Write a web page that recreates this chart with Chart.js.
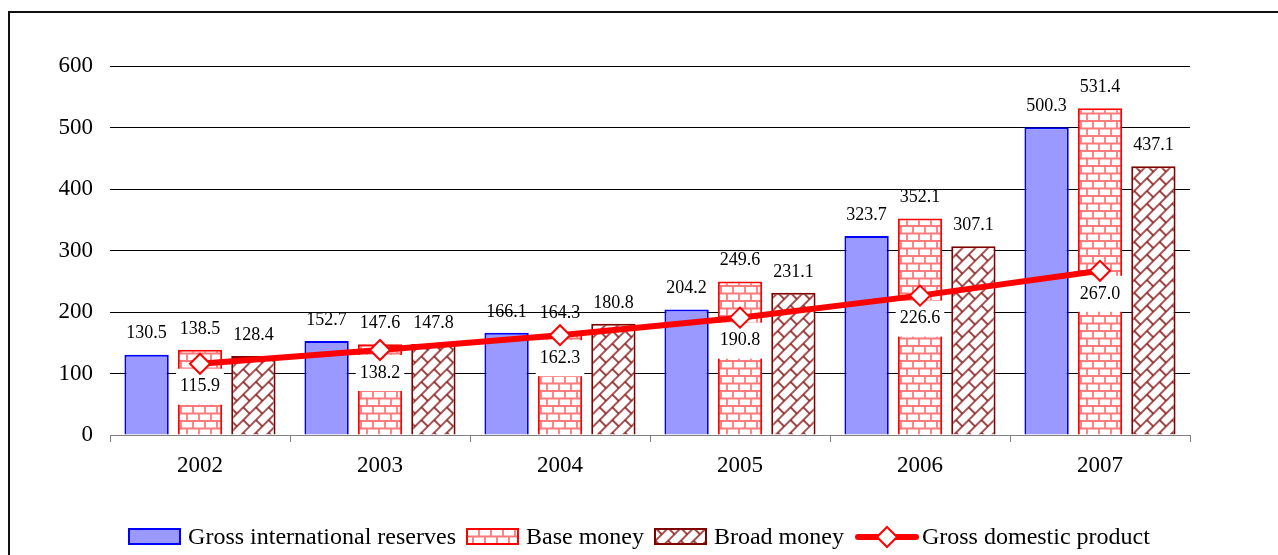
<!DOCTYPE html>
<html>
<head>
<meta charset="utf-8">
<script src="https://cdn.jsdelivr.net/npm/chart.js@4/dist/chart.umd.min.js"></script>
<style>
  body { margin: 0; background: #fff; }
  #wrap { position: relative; width: 1278px; height: 555px; overflow: hidden; }
  #frame { position: absolute; left: 8px; top: 11px; width: 1300px; height: 600px;
           border-left: 2px solid #111; border-top: 2px solid #111; }
  #chart { position: absolute; left: 0; top: 0; }
  #legend { position: absolute; left: 0; top: 523px; width: 1278px; display: flex;
            justify-content: center; align-items: center;
            font-family: "Liberation Serif", "Times New Roman", serif; font-size: 24px; color: #000; }
  #legend .item { display: flex; align-items: center; margin: 0 5px; }
  #legend canvas { margin-right: 7px; }
</style>
</head>
<body>
<div id="wrap">
  <div id="frame"></div>
  <canvas id="chart" width="1278" height="555"></canvas>
  <div id="legend"></div>
</div>
<script>
const years = ['2002', '2003', '2004', '2005', '2006', '2007'];
const reserves = [130.5, 152.7, 166.1, 204.2, 323.7, 500.3];
const baseMoney = [138.5, 147.6, 164.3, 249.6, 352.1, 531.4];
const broadMoney = [128.4, 147.8, 180.8, 231.1, 307.1, 437.1];
const gdp = [115.9, 138.2, 162.3, 190.8, 226.6, 267.0];
const yTicks = [0, 100, 200, 300, 400, 500, 600];

const serif = '"Liberation Serif", "Times New Roman", serif';

// brick tile, used straight for base money and rotated for broad money
function brickPattern(color, w, h, lw, angle) {
  const c = document.createElement('canvas');
  c.width = w; c.height = h;
  const g = c.getContext('2d');
  g.fillStyle = '#fff';
  g.fillRect(0, 0, w, h);
  g.strokeStyle = color;
  g.lineWidth = lw;
  const r = h / 2;
  g.beginPath();
  g.moveTo(0, 1); g.lineTo(w, 1);
  g.moveTo(0, 1 + r); g.lineTo(w, 1 + r);
  g.moveTo(1, 1); g.lineTo(1, 1 + r);
  g.moveTo(1 + w / 2, 1 + r); g.lineTo(1 + w / 2, h + 1);
  g.moveTo(1 + w / 2, 0); g.lineTo(1 + w / 2, 1);
  g.stroke();
  const p = g.createPattern(c, 'repeat');
  if (angle) p.setTransform(new DOMMatrix().rotate(angle));
  return p;
}

const ctx = document.getElementById('chart').getContext('2d');
const basePattern = brickPattern('#ff7a7a', 12, 15, 1.8, 0);
const broadPattern = brickPattern('#8b1a1a', 18, 18, 1.6, -45);

const labelPlugin = {
  id: 'valueLabels',
  beforeDatasetDraw(chart, args) {
    if (args.index !== 3) return;
    const c = chart.ctx;
    const meta = chart.getDatasetMeta(3);
    c.save();
    c.font = '18px ' + serif;
    c.textAlign = 'center';
    c.textBaseline = 'middle';
    meta.data.forEach((pt, i) => {
      const txt = gdp[i].toFixed(1);
      const w = c.measureText(txt).width + 8;
      c.fillStyle = '#fff';
      c.fillRect(pt.x - w / 2, pt.y + 5, w, 36);
      c.fillStyle = '#000';
      c.fillText(txt, pt.x, pt.y + 23);
    });
    c.restore();
  },
  afterDatasetsDraw(chart) {
    const c = chart.ctx;
    c.save();
    c.font = '18px ' + serif;
    c.textAlign = 'center';
    c.textBaseline = 'middle';
    c.fillStyle = '#000';
    [0, 1, 2].forEach(di => {
      const vals = chart.data.datasets[di].data;
      chart.getDatasetMeta(di).data.forEach((bar, i) => {
        c.fillText(vals[i].toFixed(1), bar.x, bar.y - 21);
      });
    });
    c.restore();
  }
};

new Chart(ctx, {
  data: {
    labels: years,
    datasets: [
      { type: 'bar', label: 'Gross international reserves', data: reserves, order: 1,
        backgroundColor: '#9999ff', borderColor: '#0000ff', borderWidth: 2 },
      { type: 'bar', label: 'Base money', data: baseMoney, order: 1,
        backgroundColor: basePattern, borderColor: '#ff0000', borderWidth: 2 },
      { type: 'bar', label: 'Broad money', data: broadMoney, order: 1,
        backgroundColor: broadPattern, borderColor: '#800000', borderWidth: 2 },
      { type: 'line', label: 'Gross domestic product', data: gdp, order: 0,
        borderColor: '#ff0000', borderWidth: 6, tension: 0,
        pointStyle: 'rectRot', pointRadius: 10, pointBorderWidth: 2,
        pointBackgroundColor: '#fff', pointBorderColor: '#ff0000' }
    ]
  },
  options: {
    responsive: false,
    animation: false,
    layout: { padding: { left: 0, right: 88, top: 66, bottom: 80 } },
    datasets: { bar: { categoryPercentage: 0.89, barPercentage: 0.83 } },
    plugins: { legend: { display: false }, tooltip: { enabled: false } },
    scales: {
      x: {
        offset: true,
        grid: { offset: true, drawOnChartArea: false, tickLength: 7, color: '#808080' },
        border: { color: '#808080', width: 1 },
        ticks: { color: '#000', padding: 10, font: { family: serif, size: 23 } },
        afterFit(scale) { scale.height = 40; }
      },
      y: {
        min: 0, max: 600,
        afterBuildTicks(scale) { scale.ticks = yTicks.map(v => ({ value: v })); },
        grid: { color: '#000', lineWidth: 1, drawTicks: false },
        border: { display: false },
        ticks: { color: '#000', padding: 17, font: { family: serif, size: 23 } },
        afterFit(scale) { scale.width = 110; }
      }
    }
  },
  plugins: [labelPlugin]
});

// legend in html, icons drawn on small canvases
function legendIcon(kind) {
  const c = document.createElement('canvas');
  const g = c.getContext('2d');
  if (kind === 'line') {
    c.width = 66; c.height = 24;
    g.strokeStyle = '#ff0000'; g.lineWidth = 6; g.lineCap = 'round';
    g.beginPath(); g.moveTo(4, 12); g.lineTo(62, 12); g.stroke();
    g.beginPath(); g.moveTo(33, 2); g.lineTo(43, 12); g.lineTo(33, 22); g.lineTo(23, 12); g.closePath();
    g.fillStyle = '#fff'; g.fill(); g.lineWidth = 2; g.stroke();
    return c;
  }
  c.width = 53; c.height = 17;
  const fills = { res: '#9999ff', base: basePattern, broad: broadPattern };
  const borders = { res: '#0000ff', base: '#ff0000', broad: '#800000' };
  g.fillStyle = fills[kind];
  g.fillRect(0, 0, 53, 17);
  g.strokeStyle = borders[kind]; g.lineWidth = 2;
  g.strokeRect(1, 1, 51, 15);
  return c;
}

const legendItems = [
  ['res', 'Gross international reserves'],
  ['base', 'Base money'],
  ['broad', 'Broad money'],
  ['line', 'Gross domestic product']
];
const legend = document.getElementById('legend');
legendItems.forEach(([kind, text]) => {
  const item = document.createElement('div');
  item.className = 'item';
  const icon = legendIcon(kind);
  if (kind === 'line') icon.style.marginRight = '2px';
  item.appendChild(icon);
  const span = document.createElement('span');
  span.textContent = text;
  item.appendChild(span);
  legend.appendChild(item);
});
</script>
</body>
</html>
